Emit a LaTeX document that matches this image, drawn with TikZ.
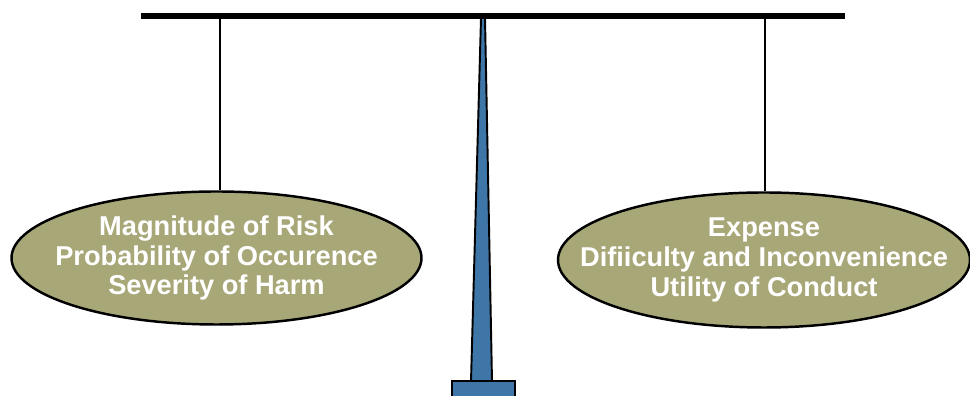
\documentclass[tikz,border=0pt]{standalone}
\usepackage{fontspec}
\setmainfont{Liberation Sans}
\usetikzlibrary{shapes.geometric}
\usetikzlibrary{positioning}
\definecolor{olivepan}{RGB}{168,167,120}
\definecolor{pillarblue}{RGB}{63,118,168}
\tikzset{
  pan/.style={ellipse, minimum width=8.2cm, minimum height=2.66cm, inner xsep=-2cm, inner ysep=-1cm, text centered, align=center, draw=black, line width=1.4pt, fill=olivepan, text=white, font=\fontsize{15.5}{17}\selectfont\bfseries},
  cord/.style={draw=black, line width=1.2pt},
  beam/.style={draw=black, line width=3.4pt},
  pillar/.style={draw=black, line width=1.1pt, fill=pillarblue}
}
\begin{document}
\begin{tikzpicture}
	\useasboundingbox (0,0) rectangle (19.4,7.92);
	\coordinate (bl) at (2.82,7.6);
	\coordinate (br) at (16.9,7.6);
	\coordinate (hl) at (4.4,7.6);
	\coordinate (hr) at (15.3,7.6);
	\node[pan] (risk) at (4.33,2.76) {Magnitude of Risk\\Probability of Occurence\\Severity of Harm};
	\node[pan, minimum width=8.24cm, minimum height=2.7cm] (burden) at (15.28,2.72) {Expense\\Difiiculty and Inconvenience\\Utility of Conduct};
	%
	\draw[cord] (hl) -- (risk.north -| hl);
	\draw[cord] (hr) -- (burden.north -| hr);
	\draw[pillar] (9.62,7.56) -- (9.70,7.56) -- (9.84,0.30) -- (9.42,0.30) -- cycle;
	\draw[pillar] (9.04,-0.1) rectangle (10.3,0.30);
	\draw[beam] (bl) -- (br);
\end{tikzpicture}
\end{document}
